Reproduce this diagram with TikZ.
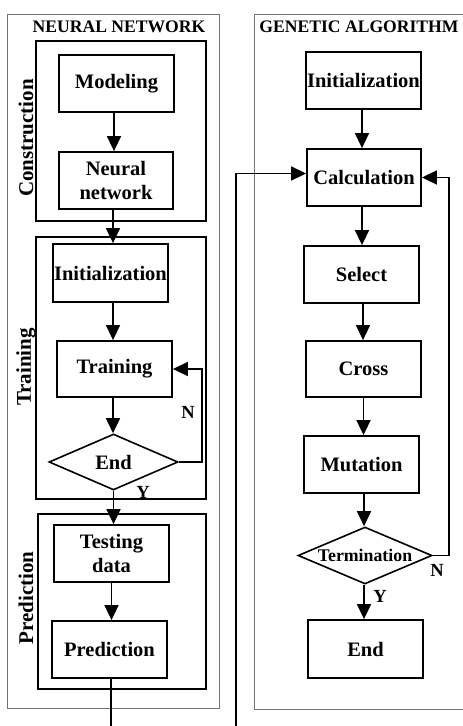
\documentclass[tikz,border=0pt]{standalone}
\usepackage{fontspec}
\setmainfont{Liberation Serif}
\usetikzlibrary{arrows.meta,shapes.geometric}
\tikzset{
  boxn/.style={draw=black,line width=1.8pt,rectangle,inner sep=0pt,align=center,
    font=\fontsize{20.5}{23.5}\selectfont\bfseries},
  decn/.style={draw=black,line width=1.6pt,diamond,inner sep=0pt,
    font=\fontsize{20.5}{23.5}\selectfont\bfseries},
  panel/.style={draw=black!55,line width=1pt},
  subpanel/.style={draw=black,line width=1.2pt},
  ttl/.style={font=\fontsize{17.6}{20}\selectfont\bfseries,inner sep=0pt},
  side/.style={font=\fontsize{21}{24}\selectfont\bfseries,rotate=90,inner sep=0pt},
  yn/.style={font=\fontsize{18.5}{20}\selectfont\bfseries,inner sep=0pt},
  arr/.style={line width=1.6pt,-{Triangle[width=14pt,length=15pt]}},
  ln/.style={line width=1.6pt}
}
\begin{document}
\begin{tikzpicture}[x=1pt,y=-1pt]
\useasboundingbox (0,0) rectangle (463,726);
% panels
\draw[panel] (7,14) rectangle (219,708);
\draw[panel] (470,14) -- (254,14) -- (254,709) -- (470,709);
\draw[subpanel] (36,41) rectangle (206,221);
\draw[subpanel] (36,237) rectangle (206,499);
\draw[subpanel] (38,514) rectangle (206,689);
% titles
\node[ttl] (tnn) at (119,27) {NEURAL NETWORK};
\node[ttl] (tga) at (359,27) {GENETIC ALGORITHM};
\node[side] (lcon) at (26,138) {Construction};
\node[side] (ltra) at (26,367) {Training};
\node[side] (lpre) at (26,598) {Prediction};
% NN nodes
\node[boxn,minimum width=115,minimum height=57] (model) at (116.5,83.5) {Modeling};
\node[boxn,minimum width=114,minimum height=57] (nn) at (116,180.5) {Neural\\network};
\node[boxn,minimum width=115,minimum height=58] (init) at (110.5,273) {Initialization};
\node[boxn,minimum width=115,minimum height=56] (train) at (114.5,369) {Training};
\node[decn,aspect=2.3,minimum width=129,minimum height=56] (end) at (113.5,462) {End};
\node[boxn,minimum width=115,minimum height=57] (test) at (111.5,553.5) {Testing\\data};
\node[boxn,minimum width=115,minimum height=57] (pred) at (109.5,649.5) {Prediction};
\node[yn] (ny) at (143,492) {Y};
\node[yn] (nn-n) at (188,412) {N};
% GA nodes
\node[boxn,minimum width=115,minimum height=57] (ginit) at (363.5,80.5) {Initialization};
\node[boxn,minimum width=114,minimum height=57] (calc) at (364,177.5) {Calculation};
\node[boxn,minimum width=115,minimum height=57] (sel) at (361.5,274.5) {Select};
\node[boxn,minimum width=115,minimum height=56] (cross) at (363.5,369) {Cross};
\node[boxn,minimum width=115,minimum height=57] (mut) at (361.5,464.5) {Mutation};
\node[decn,aspect=2.35,minimum width=134,minimum height=57,font=\fontsize{17.8}{20}\selectfont\bfseries] (term) at (365,555.5) {Termination};
\node[boxn,minimum width=115,minimum height=58] (gend) at (365.5,649) {End};
\node[yn] (gy) at (380,596) {Y};
\node[yn] (gn) at (437,570) {N};
\coordinate (nnout) at (111,726);
\coordinate (gain) at (236,726);
% NN connectors
\draw[arr] ([xshift=-2.5pt]model.south) -- ([xshift=-2.5pt]model.south |- nn.north);
\draw[arr] ([xshift=-3pt]nn.south) -- ([xshift=-3pt]nn.south |- init.north);
\draw[arr] ([xshift=2.5pt]init.south) -- ([xshift=2.5pt]init.south |- train.north);
\draw[arr] ([xshift=-1.5pt]train.south) -- ([xshift=-1.5pt]train.south |- end.north);
\draw[arr] (end.south) -- (end.south |- test.north);
\draw[arr] (test.south) -- (test.south |- pred.north);
\draw[ln] ([xshift=1.5pt]pred.south) -- ([xshift=1.5pt]pred.south |- nnout);
\draw[arr] (end.east) -- ++(23,0) |- (train.east);
% GA connectors
\draw[arr] ([xshift=-1.5pt]ginit.south) -- ([xshift=-1.5pt]ginit.south |- calc.north);
\draw[arr] ([xshift=-2pt]calc.south) -- ([xshift=-2pt]calc.south |- sel.north);
\draw[arr] ([xshift=1.5pt]sel.south) -- ([xshift=1.5pt]sel.south |- cross.north);
\draw[arr] (cross.south) -- (cross.south |- mut.north);
\draw[arr] ([xshift=2.5pt]mut.south) -- ([xshift=2.5pt]mut.south |- term.north);
\draw[arr] ([xshift=-1pt]term.south) -- ([xshift=-1pt]term.south |- gend.north);
\draw[arr] (term.east) -- ++(16,0) |- (calc.east);
\draw[arr] (gain) |- ([yshift=4pt]calc.west);
\end{tikzpicture}
\end{document}
